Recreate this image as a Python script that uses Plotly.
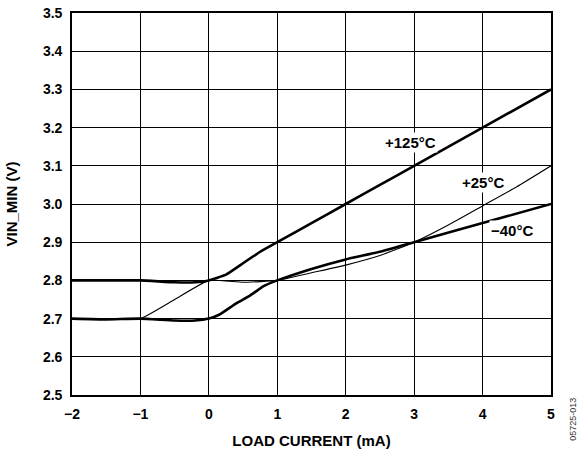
import plotly.graph_objects as go

# load current (mA) and minimum input voltage (V) per temperature
x_125 = [-2, -1.5, -1, -0.5, -0.2, 0, 0.25, 0.5, 0.75, 1, 1.5, 2, 2.5, 3, 4, 5]
y_125 = [2.8, 2.8, 2.8, 2.795, 2.795, 2.8, 2.815, 2.845, 2.875, 2.9, 2.95, 3.0, 3.05, 3.1, 3.2, 3.3]

x_25 = [-2, -1.5, -1, -0.5, 0, 0.5, 1, 1.5, 2, 2.5, 3, 3.5, 4, 4.5, 5]
y_25 = [2.7, 2.698, 2.7, 2.75, 2.8, 2.795, 2.8, 2.82, 2.84, 2.865, 2.9, 2.945, 2.995, 3.045, 3.1]

x_m40 = [-2, -1.5, -1, -0.5, -0.2, 0, 0.15, 0.4, 0.6, 0.8, 1, 1.5, 2, 2.5, 3, 4, 5]
y_m40 = [2.7, 2.698, 2.7, 2.695, 2.695, 2.7, 2.71, 2.74, 2.76, 2.785, 2.8, 2.83, 2.855, 2.875, 2.9, 2.95, 3.0]

x_ticks = [-2, -1, 0, 1, 2, 3, 4, 5]
x_ticktext = ["\u22122", "\u22121", "0", "1", "2", "3", "4", "5"]
y_ticks = [2.5, 2.6, 2.7, 2.8, 2.9, 3.0, 3.1, 3.2, 3.3, 3.4, 3.5]

FONT = "Liberation Sans, Arial, sans-serif"

fig = go.Figure()
fig.add_trace(go.Scatter(x=x_125, y=y_125, mode="lines", line=dict(color="black", width=2.6, shape="spline", smoothing=0.4)))
fig.add_trace(go.Scatter(x=x_25, y=y_25, mode="lines", line=dict(color="black", width=1.1, shape="spline", smoothing=0.4)))
fig.add_trace(go.Scatter(x=x_m40, y=y_m40, mode="lines", line=dict(color="black", width=2.6, shape="spline", smoothing=0.4)))

labels = [("+125°C", 2.94, 3.162), ("+25°C", 4.0, 3.055), ("\u221240°C", 4.43, 2.93)]
for txt, lx, ly in labels:
    fig.add_annotation(x=lx, y=ly, text=txt, showarrow=False,
                       font=dict(family=FONT, size=15, color="black"), bgcolor="white")

fig.add_annotation(xref="paper", yref="paper", x=1.046, y=-0.065, text="05725-013",
                   textangle=-90, showarrow=False, xanchor="center", yanchor="middle",
                   font=dict(family=FONT, size=9, color="#333", weight="normal"))

fig.update_xaxes(range=[-2, 5], tickvals=x_ticks, ticktext=x_ticktext, automargin=False,
                 showgrid=True, gridcolor="black", gridwidth=1.4,
                 showline=True, linecolor="black", linewidth=1.6, mirror=True,
                 zeroline=False, ticks="", ticklabelstandoff=5,
                 tickfont=dict(family=FONT, size=14, color="black"),
                 title=dict(text="LOAD CURRENT (mA)", standoff=15,
                            font=dict(family=FONT, size=15, color="black")))
fig.update_yaxes(range=[2.5, 3.5], tickvals=y_ticks, tickformat=".1f", automargin=False,
                 showgrid=True, gridcolor="black", gridwidth=1.4,
                 showline=True, linecolor="black", linewidth=1.6, mirror=True,
                 zeroline=False, ticks="", ticklabelstandoff=5,
                 tickfont=dict(family=FONT, size=14, color="black"),
                 title=dict(text="VIN_MIN (V)", standoff=22,
                            font=dict(family=FONT, size=15, color="black")))

fig.update_layout(
    width=585, height=454,
    margin=dict(l=72, r=34, t=13, b=59),
    paper_bgcolor="white", plot_bgcolor="white",
    showlegend=False,
    font=dict(family=FONT, size=14, color="black", weight="bold"),
)

# drop the default page margin so the figure sits at the window's corner
fig.write_html("out.html", config={"displayModeBar": False},
               post_script="document.body.style.margin='0';")
